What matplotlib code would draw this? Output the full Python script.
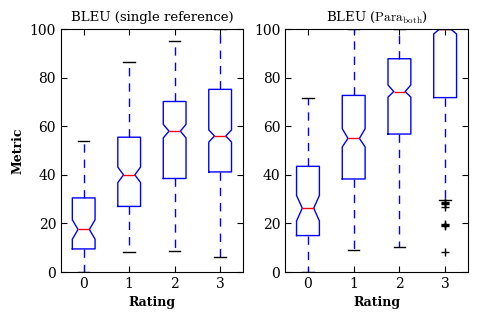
import matplotlib
matplotlib.use("Agg")
import matplotlib.pyplot as plt

plt.rcParams['font.family'] = ['DejaVu Serif']
plt.rcParams['mathtext.fontset'] = 'cm'
plt.rcParams['font.size'] = 10

ratings = [0, 1, 2, 3]

# left panel: BLEU single reference
single_whislo = [0, 8.3, 8.7, 6.2]
single_q1 = [9.5, 27.0, 38.5, 41.2]
single_med = [17.5, 40.0, 58.0, 56.0]
single_q3 = [30.5, 55.5, 70.2, 75.2]
single_whishi = [54.0, 86.5, 95.3, 100.0]
single_cilo = [13.5, 36.8, 55.2, 53.5]
single_cihi = [21.5, 43.2, 60.8, 58.5]
single_fliers = [[], [], [], []]

# right panel: BLEU Para_both
both_whislo = [0, 9.0, 10.3, 29.5]
both_q1 = [15.0, 38.3, 56.8, 71.8]
both_med = [26.3, 55.0, 74.3, 100.0]
both_q3 = [43.5, 72.7, 87.8, 100.0]
both_whishi = [71.5, 100.0, 100.0, 100.0]
both_cilo = [21.0, 51.5, 72.0, 98.0]
both_cihi = [31.5, 59.0, 77.0, 102.0]
both_fliers = [[], [], [], [28.8, 28.3, 27.8, 26.8, 19.6, 19.2, 18.8, 8.2]]


def make_stats(whislo, q1, med, q3, whishi, cilo, cihi, fliers):
    stats = []
    for i in range(len(med)):
        stats.append(dict(whislo=whislo[i], q1=q1[i], med=med[i], q3=q3[i],
                          whishi=whishi[i], cilo=cilo[i], cihi=cihi[i],
                          fliers=fliers[i]))
    return stats


def draw(ax, stats, title):
    ax.bxp(stats, positions=ratings, widths=0.5, shownotches=True,
           boxprops=dict(color='b', linewidth=1),
           whiskerprops=dict(color='b', linestyle='--', dashes=(6, 5), linewidth=1),
           capprops=dict(color='k', linewidth=1),
           medianprops=dict(color='r', linewidth=1),
           flierprops=dict(marker='+', markeredgecolor='k', markersize=6, linestyle='none'))
    ax.set_xlim(-0.5, 3.5)
    ax.set_ylim(0, 100)
    ax.set_xticks(ratings)
    ax.set_yticks([0, 20, 40, 60, 80, 100])
    ax.tick_params(direction='in', top=True, right=True, length=4, labelsize=10)
    ax.set_xlabel("Rating", fontweight='bold', fontsize=9)
    ax.set_title(title, fontsize=9.5)


fig = plt.figure(figsize=(4.8, 3.2), dpi=100)
ax1 = fig.add_axes([0.127, 0.15, 0.379, 0.759])
ax2 = fig.add_axes([0.594, 0.15, 0.381, 0.759])

draw(ax1, make_stats(single_whislo, single_q1, single_med, single_q3, single_whishi,
                     single_cilo, single_cihi, single_fliers), "BLEU (single reference)")
draw(ax2, make_stats(both_whislo, both_q1, both_med, both_q3, both_whishi,
                     both_cilo, both_cihi, both_fliers), r"BLEU ($\mathrm{Para}_{\mathrm{both}}$)")
ax1.set_ylabel("Metric", fontweight='bold', fontsize=9)

fig.savefig("out.png", dpi=100)
